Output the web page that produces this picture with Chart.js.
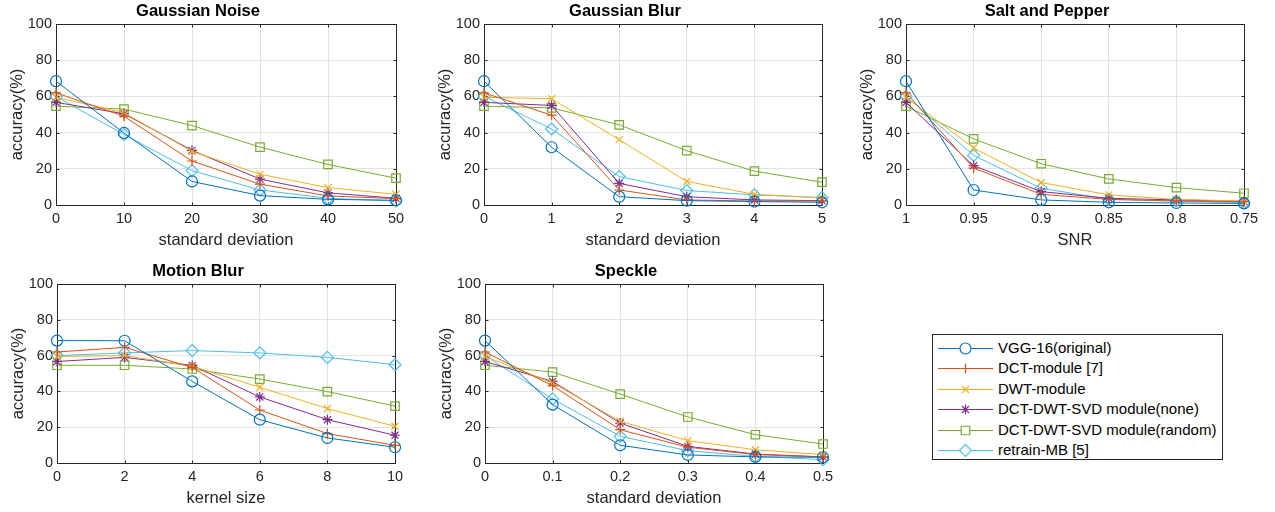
<!DOCTYPE html>
<html>
<head>
<meta charset="utf-8">
<script src="https://cdn.jsdelivr.net/npm/chart.js@4/dist/chart.umd.min.js"></script>
<style>
  body { margin: 0; background: #fff; width: 1275px; height: 512px; position: relative; overflow: hidden;
         font-family: "Liberation Sans", Arial, sans-serif; }
  .plot { position: absolute; }
  #legend { position: absolute; left: 932px; top: 334px; width: 289px; height: 124px;
            border: 1px solid #262626; background: #fff; }
  .lrow { position: absolute; left: 0; height: 20px; width: 289px; }
  .lrow canvas { position: absolute; left: 4px; top: 0; }
  .lrow span { position: absolute; left: 65px; top: 1px; font-size: 15px; color: #000; white-space: nowrap; }
</style>
</head>
<body>
<div id="legend"></div>
<script>
// series names / colours (MATLAB defaults)
const seriesNames = ["VGG-16(original)", "DCT-module [7]", "DWT-module",
  "DCT-DWT-SVD module(none)", "DCT-DWT-SVD module(random)", "retrain-MB [5]"];
const seriesColors = ["#0072BD", "#D95319", "#EDB120", "#7E2F8E", "#77AC30", "#4DBEEE"];
const seriesMarkers = ["circle", "cross", "crossRot", "star", "rect", "rectRot"];
const markerSizes = [5.5, 5, 5, 5, 6, 6];

// Gaussian Noise
const noiseLabels = ["0", "10", "20", "30", "40", "50"];
const noiseAcc = [
  [68.4, 39.8, 13.0, 5.2, 3.1, 2.6],
  [62.0, 49.0, 24.3, 11.5, 5.0, 3.5],
  [59.5, 51.0, 29.6, 17.0, 9.6, 5.9],
  [56.7, 50.4, 30.2, 14.3, 6.7, 3.7],
  [54.6, 53.0, 43.9, 32.0, 22.4, 14.8],
  [60.0, 38.9, 19.0, 8.3, 3.7, 2.2]
];

// Gaussian Blur
const blurLabels = ["0", "1", "2", "3", "4", "5"];
const blurAcc = [
  [68.4, 31.9, 4.6, 2.4, 1.9, 1.5],
  [62.0, 49.6, 8.3, 2.8, 2.2, 2.2],
  [59.5, 58.7, 36.1, 13.0, 5.9, 3.9],
  [56.7, 55.0, 11.9, 4.6, 2.8, 2.4],
  [54.6, 53.7, 44.3, 30.0, 18.7, 12.6],
  [60.0, 42.0, 15.7, 8.0, 5.6, 4.1]
];

// Salt and Pepper
const spLabels = ["1", "0.95", "0.9", "0.85", "0.8", "0.75"];
const spAcc = [
  [68.4, 8.3, 2.8, 1.5, 1.1, 0.9],
  [62.0, 20.4, 5.9, 3.1, 2.2, 1.9],
  [59.5, 31.5, 12.4, 5.6, 3.1, 2.2],
  [56.7, 21.7, 7.4, 3.7, 2.8, 2.0],
  [54.6, 36.5, 22.8, 14.4, 9.6, 6.5],
  [60.0, 27.4, 9.3, 3.1, 2.2, 1.3]
];

// Motion Blur
const motionLabels = ["0", "2", "4", "6", "8", "10"];
const motionAcc = [
  [68.4, 68.3, 45.6, 24.2, 14.0, 8.8],
  [62.0, 64.6, 53.4, 29.6, 16.4, 9.9],
  [59.5, 60.0, 54.0, 42.3, 30.4, 20.5],
  [56.7, 59.0, 54.5, 36.9, 24.2, 15.5],
  [54.6, 54.6, 52.5, 46.9, 39.9, 31.8],
  [60.0, 61.5, 62.8, 61.5, 59.0, 54.9]
];

// Speckle
const speckleLabels = ["0", "0.1", "0.2", "0.3", "0.4", "0.5"];
const speckleAcc = [
  [68.4, 32.6, 9.9, 4.5, 3.4, 3.2],
  [62.0, 43.2, 18.6, 8.8, 4.7, 3.4],
  [59.5, 44.7, 23.3, 12.5, 7.4, 4.7],
  [56.7, 45.6, 22.3, 9.3, 5.0, 3.4],
  [54.6, 50.8, 38.5, 25.7, 15.8, 10.6],
  [60.0, 35.8, 14.9, 6.9, 3.7, 1.9]
];

const yTicks = [0, 20, 40, 60, 80, 100];
const FONT = "'Liberation Sans', Arial, Helvetica, sans-serif";
const AX = "#262626";

// box around plot area + small inward ticks, like MATLAB "box on"
const boxPlugin = {
  id: "box",
  beforeDatasetsDraw(chart) {
    const a = chart.chartArea, ctx = chart.ctx;
    const L = Math.round(a.left) + 0.5, T = Math.round(a.top) + 0.5;
    const R = Math.round(a.right) + 0.5, B = Math.round(a.bottom) + 0.5;
    ctx.save();
    ctx.strokeStyle = AX;
    ctx.lineWidth = 1;
    ctx.strokeRect(L, T, R - L, B - T);
    ctx.beginPath();
    const xs = chart.scales.x, ys = chart.scales.y;
    xs.ticks.forEach((t, i) => {
      const px = Math.round(xs.getPixelForTick(i)) + 0.5;
      ctx.moveTo(px, B); ctx.lineTo(px, B - 3);
      ctx.moveTo(px, T); ctx.lineTo(px, T + 3);
    });
    ys.ticks.forEach((t, i) => {
      const py = Math.round(ys.getPixelForTick(i)) + 0.5;
      ctx.moveTo(L, py); ctx.lineTo(L + 3, py);
      ctx.moveTo(R, py); ctx.lineTo(R - 3, py);
    });
    ctx.stroke();
    ctx.restore();
  }
};

function makePlot(title, xTitle, labels, acc, area) {
  const [aL, aT, aR, aB] = area;
  const left = aL - 56, top = aT - 24;
  const w = aR - left + 22, h = aB - top + 46;
  const div = document.createElement("div");
  div.className = "plot";
  div.style.left = left + "px";
  div.style.top = top + "px";
  const cv = document.createElement("canvas");
  cv.width = w; cv.height = h;
  cv.style.width = w + "px"; cv.style.height = h + "px";
  div.appendChild(cv);
  document.body.appendChild(div);

  new Chart(cv.getContext("2d"), {
    type: "line",
    data: {
      labels: labels,
      datasets: acc.map((vals, i) => ({
        label: seriesNames[i],
        data: vals,
        borderColor: seriesColors[i],
        backgroundColor: "rgba(0,0,0,0)",
        borderWidth: 1,
        pointStyle: seriesMarkers[i],
        pointRadius: markerSizes[i],
        pointBorderWidth: 1.2,
        pointBorderColor: seriesColors[i],
        pointBackgroundColor: "rgba(0,0,0,0)",
        tension: 0,
        clip: false
      }))
    },
    options: {
      responsive: false,
      devicePixelRatio: 1,
      animation: false,
      layout: { padding: { left: 0, top: 0, right: 22, bottom: 0 } },
      plugins: {
        legend: { display: false },
        tooltip: { enabled: false },
        title: {
          display: true, text: title, color: "#000",
          font: { family: FONT, size: 16.5, weight: "bold" },
          padding: { top: 2, bottom: 2.2 }
        }
      },
      scales: {
        x: {
          type: "category",
          offset: false,
          grid: { color: "#e3e3e3", lineWidth: 1, drawTicks: false },
          border: { display: false },
          ticks: { color: AX, font: { family: FONT, size: 14.5 }, padding: 5, maxRotation: 0, autoSkip: false },
          title: { display: true, text: xTitle, color: AX, font: { family: FONT, size: 16.5 }, padding: { top: 0, bottom: 1 } },
          afterFit(s) { s.height = 46; s.paddingLeft = 0; s.paddingRight = 0; }
        },
        y: {
          min: 0, max: 100,
          afterBuildTicks(s) { s.ticks = yTicks.map(v => ({ value: v })); },
          grid: { color: "#e3e3e3", lineWidth: 1, drawTicks: false },
          border: { display: false },
          ticks: { color: AX, font: { family: FONT, size: 14.5 }, padding: 4 },
          title: { display: true, text: "accuracy(%)", color: AX, font: { family: FONT, size: 16.5 }, padding: { top: 8, bottom: 0 } },
          afterFit(s) { s.width = 56; s.paddingTop = 0; s.paddingBottom = 0; }
        }
      }
    },
    plugins: [boxPlugin]
  });
}

makePlot("Gaussian Noise", "standard deviation", noiseLabels, noiseAcc, [56, 24, 396, 205]);
makePlot("Gaussian Blur", "standard deviation", blurLabels, blurAcc, [484, 24, 822, 205]);
makePlot("Salt and Pepper", "SNR", spLabels, spAcc, [906, 24, 1244, 205]);
makePlot("Motion Blur", "kernel size", motionLabels, motionAcc, [57, 284, 395, 463]);
makePlot("Speckle", "standard deviation", speckleLabels, speckleAcc, [485, 284, 823, 463]);

// legend: line + marker sample, drawn with Chart.js point helper
const legend = document.getElementById("legend");
seriesNames.forEach((name, i) => {
  const row = document.createElement("div");
  row.className = "lrow";
  row.style.top = (3 + i * 20.4) + "px";
  const c = document.createElement("canvas");
  c.width = 58; c.height = 20;
  row.appendChild(c);
  const sp = document.createElement("span");
  sp.textContent = name;
  row.appendChild(sp);
  legend.appendChild(row);
  const ctx = c.getContext("2d");
  ctx.strokeStyle = seriesColors[i];
  ctx.lineWidth = 1;
  ctx.beginPath(); ctx.moveTo(1, 10.5); ctx.lineTo(56, 10.5); ctx.stroke();
  ctx.fillStyle = "#fff";
  ctx.lineWidth = 1.2;
  Chart.helpers.drawPoint(ctx, { pointStyle: seriesMarkers[i], radius: markerSizes[i], rotation: 0, borderWidth: 1.2 }, 28.5, 10.5);
});
</script>
</body>
</html>
